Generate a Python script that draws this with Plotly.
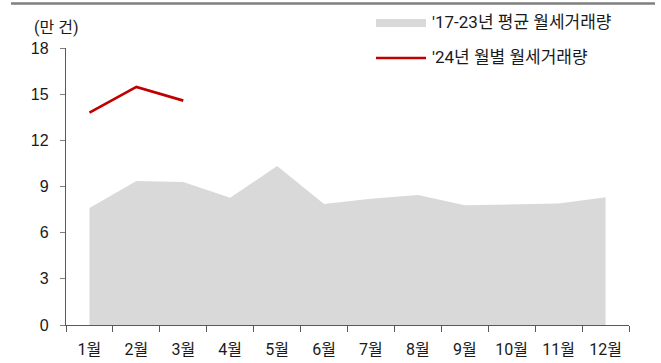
import plotly.graph_objects as go

# Monthly rent-transaction volume (unit: 10k cases)
months = ["1월", "2월", "3월", "4월", "5월", "6월", "7월", "8월", "9월", "10월", "11월", "12월"]
avg_17_23 = [7.6, 9.35, 9.3, 8.27, 10.33, 7.86, 8.2, 8.45, 7.78, 7.83, 7.9, 8.3]
months_24 = ["1월", "2월", "3월"]
monthly_24 = [13.8, 15.47, 14.58]

y_ticks = [0, 3, 6, 9, 12, 15, 18]

FONT_NUM = "Liberation Sans, Noto Sans CJK KR, sans-serif"
FONT_KR = "Roboto, Noto Sans CJK KR, sans-serif"
TXT = "#1a1a1a"

# plot-area geometry (pixels), used to place the hand-drawn legend
W, H = 661, 363
L, R, T, B = 66, 32, 48, 38
PW, PH = W - L - R, H - T - B


def px(x):
    return (x - L) / PW


def py(y):
    return (H - B - y) / PH


fig = go.Figure()
fig.add_trace(go.Scatter(
    x=months, y=avg_17_23, mode="lines", fill="tozeroy",
    line=dict(width=0, color="#d9d9d9"), fillcolor="#d9d9d9",
    name="'17-23년 평균 월세거래량", showlegend=False,
))
fig.add_trace(go.Scatter(
    x=months_24, y=monthly_24, mode="lines",
    line=dict(width=2.7, color="#c00000"),
    name="'24년 월별 월세거래량", showlegend=False,
))

shapes = [
    # header rule
    dict(type="line", xref="paper", yref="paper", x0=px(11), x1=px(655), y0=py(3.5), y1=py(3.5),
         line=dict(color="#7f7f7f", width=2.5)),
    # legend swatches
    dict(type="rect", xref="paper", yref="paper", x0=px(376), x1=px(426), y0=py(27), y1=py(19),
         fillcolor="#d9d9d9", line=dict(width=0)),
    dict(type="line", xref="paper", yref="paper", x0=px(376), x1=px(426), y0=py(58), y1=py(58),
         line=dict(color="#c00000", width=2.5)),
]

annotations = [
    dict(text="'17-23년 평균 월세거래량", xref="paper", yref="paper", x=px(430), y=py(22),
         xanchor="left", yanchor="middle", showarrow=False, font=dict(size=17, color=TXT, family=FONT_KR)),
    dict(text="'24년 월별 월세거래량", xref="paper", yref="paper", x=px(430), y=py(57),
         xanchor="left", yanchor="middle", showarrow=False, font=dict(size=17, color=TXT, family=FONT_KR)),
    dict(text="(만 건)", xref="paper", yref="paper", x=px(56), y=py(27),
         xanchor="center", yanchor="middle", showarrow=False, font=dict(size=16, color=TXT, family=FONT_KR)),
]

fig.update_layout(
    width=W, height=H,
    margin=dict(l=L, r=R, t=T, b=B, pad=0),
    paper_bgcolor="white", plot_bgcolor="white",
    font=dict(family=FONT_NUM, size=16, color=TXT),
    shapes=shapes, annotations=annotations,
    showlegend=False,
)
fig.update_xaxes(
    type="category", categoryorder="array", categoryarray=months,
    range=[-0.5, 11.5], showgrid=False, zeroline=False, automargin=False,
    showline=True, linecolor="#595959", linewidth=1.3,
    ticks="outside", tickson="boundaries", ticklen=6, tickcolor="#595959", tickwidth=1,
    tickfont=dict(size=16, color=TXT, family=FONT_KR), ticklabelstandoff=10,
)
fig.update_yaxes(
    range=[0, 18], tickvals=y_ticks, showgrid=False, zeroline=False, automargin=False,
    showline=True, linecolor="#595959", linewidth=1.3,
    ticks="outside", ticklen=5, tickcolor="#7f7f7f", tickwidth=1,
    tickfont=dict(size=16, color=TXT, family=FONT_NUM), ticklabelstandoff=8,
)

fig.write_html("out.html")
